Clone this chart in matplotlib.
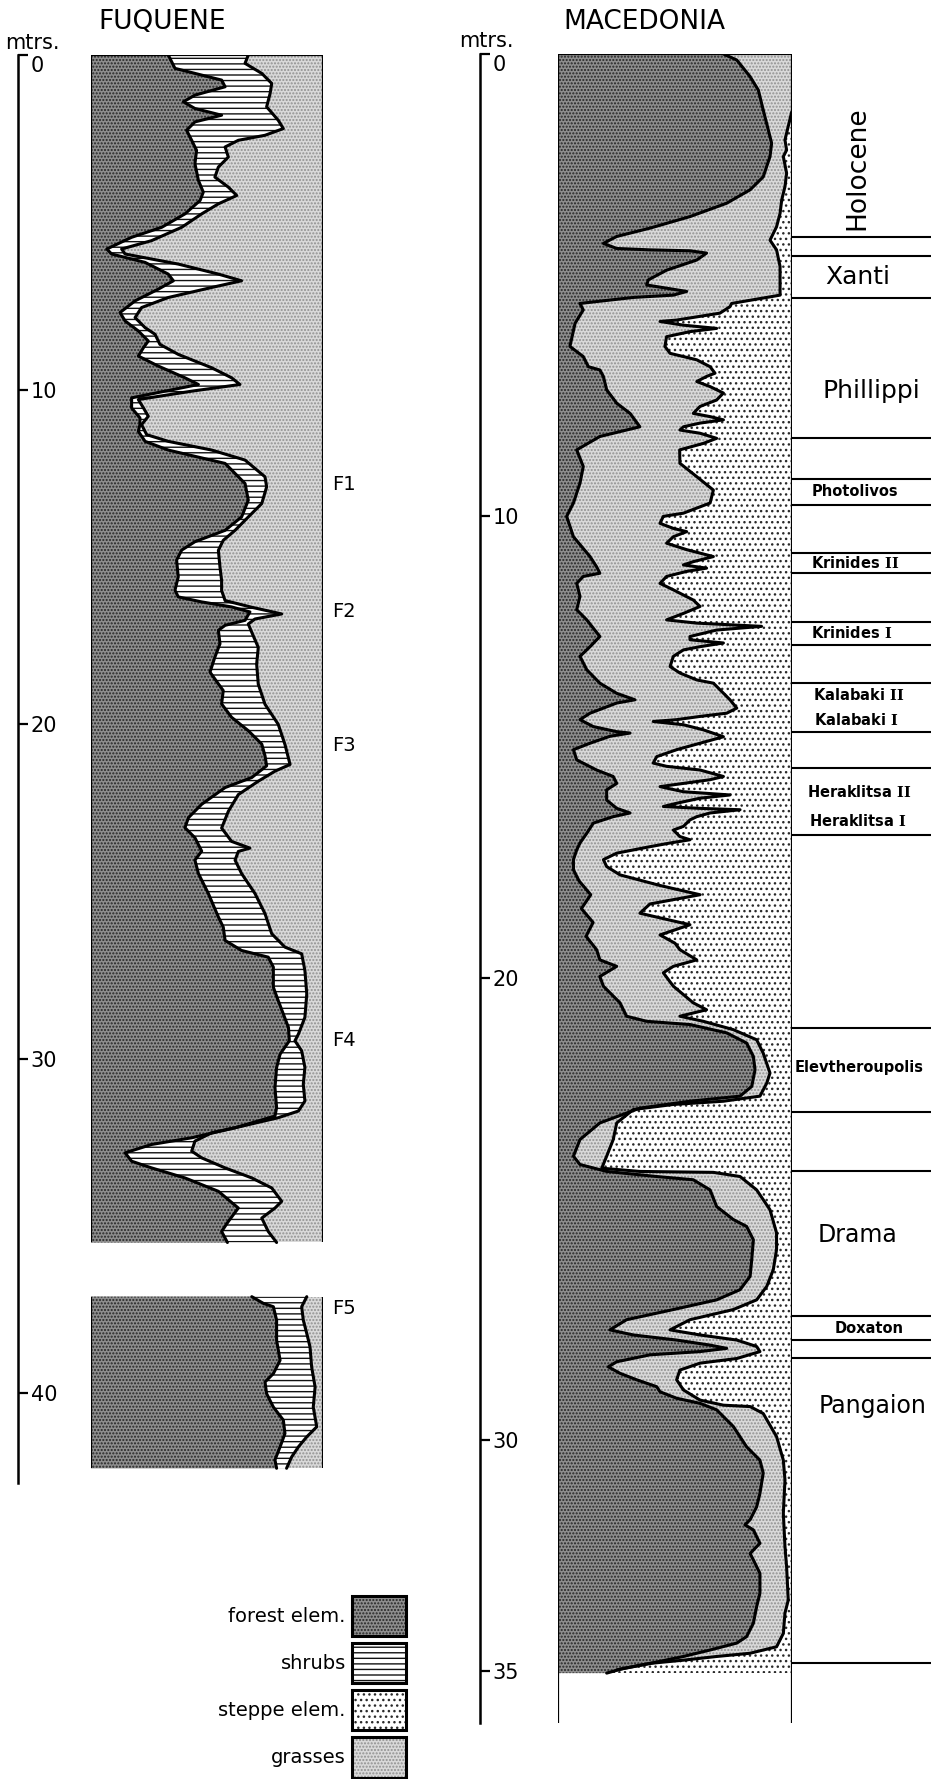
import matplotlib
matplotlib.use("Agg")
import matplotlib.pyplot as plt
from matplotlib.patches import Patch
from matplotlib.legend_handler import HandlerTuple

plt.rcParams['font.family'] = ['DejaVu Sans']
plt.rcParams['mathtext.fontset'] = 'dejavuserif'
plt.rcParams['hatch.linewidth'] = 1.0

# ---------------- data (depth in m, boundaries in % of pollen sum) ----------------
# Fuquene, upper section: forest boundary and forest+shrubs boundary
fuq_forest_depth = [0.0, 0.40, 0.75, 0.95, 1.20, 1.40, 1.60, 1.80, 2.00, 2.25, 2.55, 2.85, 3.25, 3.75, 4.10,
                    4.35, 4.75, 5.15, 5.45, 5.80, 5.95, 6.20, 6.55, 6.75, 7.00, 7.35, 7.70, 7.95, 8.25, 8.55,
                    8.75, 9.00, 9.30, 9.65, 9.85, 10.05, 10.25, 10.55, 10.85, 11.05, 11.25, 11.55, 11.81, 12.21,
                    12.81, 13.31, 13.81, 14.21, 14.55, 14.80, 15.10, 15.60, 16.00, 16.20, 16.35, 16.50, 16.65,
                    16.90, 17.05, 17.20, 17.60, 18.00, 18.45, 18.80, 19.00, 19.40, 19.80, 20.20, 20.60, 20.95,
                    21.25, 21.60, 21.90, 22.40, 22.80, 23.10, 23.40, 23.80, 24.07, 24.47, 25.07, 25.77, 26.07,
                    26.47, 26.77, 26.97, 27.27, 27.87, 28.27, 29.07, 29.47, 29.87, 30.27, 30.87, 31.47, 31.72,
                    32.07, 32.37, 32.57, 32.82, 33.07, 33.27, 33.57, 33.97, 34.47, 34.87, 35.17, 35.50]
fuq_forest = [33.3, 36.2, 56.3, 57.8, 44.8, 39.8, 44.8, 56.3, 44.8, 41.2, 43.4, 45.5, 44.8, 46.3, 48.4,
              47.0, 40.5, 30.5, 17.5, 6.8, 8.9, 23.3, 33.3, 35.5, 29.0, 19.0, 12.5, 14.7, 20.4, 24.7,
              22.6, 20.4, 29.0, 40.5, 46.3, 31.9, 17.5, 17.5, 21.1, 21.1, 20.4, 23.3, 33.3, 57.8,
              66.4, 67.8, 64.9, 57.8, 44.8, 39.1, 36.9, 37.6, 36.2, 37.6, 47.7, 60.6, 68.5,
              66.4, 57.8, 54.9, 55.6, 53.4, 51.3, 54.9, 57.0, 56.3, 60.6, 67.8, 73.6, 75.0,
              75.7, 69.3, 57.8, 47.7, 42.0, 40.5, 44.8, 47.7, 44.8, 46.3, 50.6, 54.9, 57.0,
              57.8, 64.9, 76.4, 78.6, 78.6, 80.7, 85.1, 85.5, 81.5, 80.0, 79.3, 80.0, 79.3,
              62.1, 43.4, 26.1, 14.7, 17.5, 26.1, 40.5, 54.9, 63.5, 59.2, 56.3, 58.8]

fuq_shrub_depth = [0.0, 0.25, 0.55, 0.85, 1.15, 1.55, 1.95, 2.20, 2.40, 2.55, 2.75, 3.05, 3.35, 3.65, 3.95,
                   4.20, 4.45, 4.75, 5.15, 5.55, 5.80, 5.95, 6.25, 6.55, 6.75, 6.95, 7.25, 7.55, 7.85, 8.15,
                   8.35, 8.65, 8.95, 9.35, 9.65, 9.85, 10.05, 10.30, 10.55, 10.80, 11.05, 11.35, 11.55, 11.81,
                   12.11, 12.61, 12.91, 13.41, 13.81, 14.21, 14.51, 14.81, 15.31, 15.71, 16.01, 16.31, 16.51,
                   16.71, 16.86, 17.01, 17.26, 17.71, 18.21, 18.81, 19.41, 20.01, 20.61, 21.21, 21.41, 21.71,
                   22.11, 22.61, 23.11, 23.51, 23.71, 23.81, 24.07, 24.47, 25.07, 25.67, 26.27, 26.67, 26.87,
                   27.37, 28.07, 28.77, 29.27, 29.47, 29.77, 30.27, 30.77, 31.27, 31.57, 31.77, 32.07, 32.22,
                   32.47, 32.77, 32.97, 33.27, 33.57, 33.87, 34.27, 34.47, 34.77, 35.17, 35.50]
fuq_shrub = [67.8, 66.4, 73.6, 77.9, 77.2, 75.7, 80.7, 82.9, 75.0, 63.5, 57.8, 59.2, 54.9, 53.4, 59.2,
             62.8, 54.9, 47.7, 39.1, 26.1, 13.2, 14.7, 37.6, 54.9, 64.9, 52.0, 33.3, 21.8, 19.0, 23.3,
             27.6, 29.7, 37.6, 52.0, 60.6, 64.2, 43.4, 20.4, 22.6, 24.7, 21.8, 24.0, 33.3, 52.0,
             66.4, 75.0, 75.7, 73.6, 67.8, 62.1, 57.0, 54.9, 55.6, 56.3, 56.3, 57.8, 69.3,
             82.2, 70.7, 67.8, 69.3, 72.1, 71.4, 72.1, 75.0, 80.7, 83.6, 85.8, 79.3, 72.1,
             63.5, 59.2, 56.3, 60.6, 68.5, 63.5, 62.1, 64.9, 70.7, 75.0, 77.9, 83.6, 90.8,
             92.2, 93.0, 92.2, 89.4, 87.9, 90.8, 92.2, 91.5, 92.2, 89.4, 80.7, 62.1, 52.0,
             44.8, 43.4, 47.7, 57.8, 69.3, 77.9, 82.2, 79.3, 73.6, 76.4, 80.0]

# Fuquene, lower section
fuq_low_forest_depth = [37.12, 37.32, 37.42, 37.82, 38.42, 39.02, 39.42, 39.67, 40.02, 40.42, 40.81, 41.21,
                        41.61, 42.00, 42.25]
fuq_low_forest = [69.3, 74.3, 78.6, 80.0, 80.0, 81.5, 78.6, 75.0, 75.7, 78.6, 82.9, 83.6, 81.5, 79.3, 80.0]
fuq_low_shrub_depth = [37.12, 37.42, 37.82, 38.22, 38.62, 39.22, 39.82, 40.42, 41.01, 41.31, 41.61, 41.91,
                       42.25]
fuq_low_shrub = [93.0, 90.8, 91.5, 93.0, 94.4, 95.1, 96.6, 95.8, 97.3, 93.0, 89.4, 86.5, 84.3]

fuq_sections = [(0.0, 35.5), (37.12, 42.25)]
fuq_zones = ['F1', 'F2', 'F3', 'F4', 'F5']
fuq_zone_depth = [12.85, 16.65, 20.63, 29.45, 37.46]
fuq_ticks = [0, 10, 20, 30, 40]

# Macedonia: forest boundary and forest+grasses boundary (steppe beyond)
mac_forest_depth = [0.0, 0.13, 0.49, 0.78, 1.21, 1.65, 1.93, 2.22, 2.66, 2.94, 3.23, 3.52, 3.77, 3.95, 4.10,
                    4.21, 4.24, 4.26, 4.31, 4.46, 4.68, 4.89, 5.00, 5.07, 5.14, 5.22, 5.27, 5.40, 5.54, 5.83,
                    6.33, 6.55, 6.77, 6.84, 6.98, 7.27, 7.56, 7.78, 8.07, 8.14, 8.28, 8.57, 8.93, 9.29, 9.72,
                    10.01, 10.45, 10.88, 11.10, 11.24, 11.31, 11.46, 11.74, 12.03, 12.25, 12.61, 12.83, 13.04,
                    13.33, 13.62, 13.84, 13.98, 14.05, 14.27, 14.41, 14.56, 14.67, 14.70, 14.77, 14.92, 15.06,
                    15.28, 15.50, 15.64, 15.79, 15.93, 16.15, 16.33, 16.43, 16.51, 16.65, 16.87, 17.08, 17.23,
                    17.44, 17.66, 17.90, 18.20, 18.50, 18.80, 19.10, 19.39, 19.61, 19.75, 19.97, 20.18, 20.54,
                    20.83, 20.94, 21.01, 21.19, 21.41, 21.70, 21.99, 22.35, 22.56, 22.67, 22.82, 23.14, 23.50,
                    23.86, 24.04, 24.19, 24.30, 24.37, 24.59, 24.95, 25.23, 25.38, 25.67, 26.10, 26.46, 26.75,
                    26.97, 27.18, 27.40, 27.62, 27.73, 27.84, 27.95, 28.02, 28.09, 28.16, 28.31, 28.42, 28.56,
                    28.70, 28.85, 28.96, 29.10, 29.21, 29.35, 29.71, 30.15, 30.44, 30.72, 31.16, 31.45, 31.73,
                    31.84, 31.95, 32.24, 32.46, 32.60, 32.89, 33.32, 33.61, 33.97, 34.26, 34.40, 34.55, 34.69,
                    34.84, 34.95, 35.05]
mac_forest = [70.7, 76.4, 82.1, 85.6, 87.7, 89.9, 91.3, 90.6, 87.7, 82.1, 72.1, 56.4, 39.3, 25.1, 19.4,
              25.1, 39.3, 56.4, 63.5, 59.3, 46.4, 38.6, 37.9, 46.4, 55.0, 49.3, 32.2, 9.4, 10.8, 7.3,
              5.1, 10.8, 13.0, 17.9, 19.4, 20.8, 25.1, 30.8, 35.0, 29.3, 17.9, 8.0, 10.8, 9.4, 6.6,
              3.7, 6.6, 13.7, 16.5, 17.9, 10.8, 8.0, 9.4, 8.0, 12.3, 17.9, 13.7, 9.4,
              12.3, 17.9, 25.1, 32.9, 25.1, 13.7, 9.4, 15.1, 25.1, 30.8, 22.2, 13.7, 6.6,
              8.0, 16.5, 23.6, 25.1, 20.8, 20.8, 25.1, 30.8, 23.6, 15.1, 12.3, 9.4, 8.0,
              6.6, 6.6, 9.0, 14.0, 10.0, 15.0, 12.0, 16.5, 17.9, 25.1, 17.9, 19.4, 26.5,
              29.3, 37.9, 56.4, 72.1, 80.6, 83.5, 84.2, 82.8, 77.8, 56.4, 35.0, 17.9, 9.4,
              6.6, 9.4, 20.8, 42.2, 57.8, 65.0, 67.8, 74.9, 80.6, 83.5, 82.8, 82.1, 77.8,
              67.8, 49.3, 29.3, 22.2, 32.2, 50.7, 65.0, 72.1, 60.7, 39.3, 25.1, 21.5, 26.5,
              33.6, 42.2, 43.6, 50.7, 60.7, 67.8, 74.9, 80.6, 86.3, 87.7, 86.3, 84.9, 82.1,
              79.9, 83.5, 86.3, 82.1, 83.5, 86.3, 86.3, 84.9, 83.5, 80.6, 76.4, 65.0, 53.6,
              39.3, 27.9, 20.8]

mac_grass_depth = [0.0, 1.25, 1.57, 1.86, 2.08, 2.22, 2.58, 2.87, 3.16, 3.45, 3.74, 4.03, 4.24, 4.60, 4.89,
                   5.22, 5.40, 5.47, 5.61, 5.76, 5.79, 5.87, 5.94, 6.01, 6.12, 6.33, 6.48, 6.62, 6.77, 6.91,
                   6.98, 7.09, 7.20, 7.34, 7.49, 7.63, 7.78, 7.85, 7.92, 7.99, 8.07, 8.14, 8.21, 8.32, 8.43,
                   8.57, 8.86, 9.15, 9.44, 9.72, 9.94, 10.01, 10.16, 10.27, 10.34, 10.45, 10.59, 10.73, 10.88,
                   10.99, 11.06, 11.13, 11.20, 11.31, 11.46, 11.60, 11.82, 11.96, 12.11, 12.25, 12.32, 12.39,
                   12.47, 12.61, 12.68, 12.75, 12.83, 12.90, 13.04, 13.26, 13.40, 13.55, 13.62, 13.69, 13.98,
                   14.16, 14.27, 14.34, 14.41, 14.45, 14.52, 14.63, 14.78, 14.92, 15.06, 15.21, 15.35, 15.42,
                   15.50, 15.64, 15.71, 15.79, 15.86, 15.97, 16.04, 16.11, 16.22, 16.29, 16.33, 16.36, 16.43,
                   16.51, 16.58, 16.72, 16.80, 16.94, 17.01, 17.08, 17.16, 17.30, 17.44, 17.59, 17.77, 18.00,
                   18.20, 18.40, 18.60, 18.85, 19.07, 19.25, 19.39, 19.61, 19.75, 19.89, 20.18, 20.54, 20.69,
                   20.83, 20.94, 21.12, 21.34, 21.63, 22.06, 22.28, 22.56, 22.67, 22.74, 22.85, 23.14, 23.50,
                   23.86, 24.12, 24.19, 24.21, 24.30, 24.59, 25.02, 25.52, 25.88, 26.32, 26.68, 26.97, 27.18,
                   27.40, 27.62, 27.73, 27.84, 27.98, 28.09, 28.24, 28.34, 28.49, 28.70, 28.92, 29.14, 29.25,
                   29.28, 29.43, 29.93, 30.44, 30.87, 31.59, 32.31, 32.75, 33.47, 33.75, 34.19, 34.48, 34.62,
                   34.69, 34.77, 34.84, 34.98]
mac_grass = [100.0, 99.9, 98.4, 97.0, 97.7, 96.3, 97.7, 97.0, 95.6, 94.9, 93.4, 90.6, 93.4, 94.9, 94.9,
             94.9, 74.2, 73.5, 69.2, 50.7, 43.6, 53.6, 67.8, 56.4, 46.4, 45.7, 47.9, 59.3, 65.0, 67.1,
             63.5, 59.3, 65.0, 70.7, 67.8, 60.7, 57.8, 65.0, 70.7, 60.7, 53.6, 52.1, 60.7, 67.8, 62.1,
             52.0, 52.1, 59.3, 66.4, 65.0, 53.6, 45.0, 43.6, 49.3, 55.0, 49.3, 46.4, 55.0, 66.4,
             57.8, 53.6, 63.5, 55.0, 46.4, 43.6, 49.3, 57.8, 60.7, 53.6, 46.4, 59.3, 87.0,
             67.8, 56.4, 56.4, 70.7, 60.7, 53.6, 49.3, 47.9, 52.1, 59.3, 66.4, 67.8, 73.5,
             76.4, 72.1, 60.7, 50.7, 40.7, 53.6, 62.1, 70.7, 60.7, 50.7, 42.2, 40.7, 46.4,
             60.7, 70.7, 65.0, 53.6, 43.6, 53.6, 73.5, 60.7, 50.7, 45.0, 60.7, 77.8, 65.0,
             59.3, 56.4, 53.6, 49.3, 52.1, 56.4, 47.9, 39.3, 25.1, 19.4, 20.8, 26.5, 43.6,
             60.7, 39.3, 35.0, 56.4, 43.6, 50.0, 52.1, 59.3, 49.3, 45.0, 49.3, 57.8, 63.5,
             52.1, 62.1, 74.9, 84.9, 87.7, 90.6, 89.2, 86.3, 70.7, 49.3, 32.2, 25.1, 23.6,
             20.8, 18.7, 35.0, 66.4, 77.8, 84.9, 90.6, 93.4, 93.4, 92.0, 89.2, 84.9, 74.9,
             56.4, 47.9, 60.7, 76.4, 84.9, 86.3, 76.4, 60.7, 52.1, 50.7, 53.6, 60.7, 70.7,
             82.1, 87.7, 93.4, 96.3, 97.0, 96.3, 97.0, 97.7, 98.4, 97.0, 96.3, 93.4, 82.1,
             67.8, 53.6, 39.3, 25.1]

mac_fill_bottom = 35.05
mac_ticks = [0, 10, 20, 30, 35]

# stratigraphic column (Macedonia depth scale)
strat_bounds = [3.96, 4.37, 5.28, 8.31, 9.20, 9.76, 10.80, 11.23, 12.29, 12.79, 13.61, 14.68, 15.45,
                16.90, 21.08, 22.90, 24.17, 27.32, 27.84, 28.22, 34.83]
big_names = ['Xanti', 'Phillippi', 'Drama', 'Pangaion']
big_depth = [4.83, 7.30, 25.56, 29.27]
small_names = ['Photolivos', r'Krinides $\mathbf{II}$', r'Krinides $\mathbf{I}$', r'Kalabaki $\mathbf{II}$',
               r'Kalabaki $\mathbf{I}$', r'Heraklitsa $\mathbf{II}$', r'Heraklitsa $\mathbf{I}$',
               'Elevtheroupolis', 'Doxaton']
small_depth = [9.48, 11.02, 12.53, 13.87, 14.42, 15.97, 16.60, 21.95, 27.58]

legend_labels = ['forest elem.', 'shrubs', 'steppe elem.', 'grasses']

# ---------------- styles ----------------
FOREST = dict(facecolor='#8e8e8e', hatch='.....', edgecolor='#262626', linewidth=0)
SHRUBS = dict(facecolor='white', hatch='---', edgecolor='#111111', linewidth=0)
GRASSES = dict(facecolor='#d9d9d9', hatch='.....', edgecolor='#909090', linewidth=0)
STEPPE = dict(facecolor='white', hatch='...', edgecolor='#2a2a2a', linewidth=0)
LINE = dict(color='black', lw=2.2, solid_joinstyle='round', solid_capstyle='round')

W, H = 931, 1779
fig = plt.figure(figsize=(W / 100, H / 100), dpi=100)


def rect(x0, y0, x1, y1):
    return [x0 / W, 1 - y1 / H, (x1 - x0) / W, (y1 - y0) / H]


def scale_axis(r, bottom, ticks):
    ax = fig.add_axes(r)
    ax.set_ylim(bottom, 0)
    for s in ['left', 'top', 'bottom']:
        ax.spines[s].set_visible(False)
    ax.spines['right'].set_linewidth(1.8)
    ax.patch.set_visible(False)
    ax.set_xticks([])
    ax.yaxis.tick_right()
    ax.set_yticks(ticks)
    ax.set_yticklabels(['' if t == 0 else str(t) for t in ticks])
    ax.tick_params(axis='y', direction='out', length=7, width=1.6, pad=2, labelsize=15)
    ax.annotate('0', xy=(1, 0), xycoords=('axes fraction', 'data'), xytext=(9, -1),
                textcoords='offset points', ha='left', va='top', fontsize=15)
    return ax


def frame(ax, top, bottom, with_top=True):
    ax.plot([0, 0], [top, bottom], color='black', lw=1.6, solid_capstyle='butt')
    ax.plot([100, 100], [top, bottom], color='black', lw=1.6, solid_capstyle='butt')
    if with_top:
        ax.plot([0, 100], [top, top], color='black', lw=1.6)


# ---------------- Fuquene ----------------
fuq_bottom = 42.69
axf = fig.add_axes(rect(91, 55, 323, 1483))
axf.set_xlim(0, 100)
axf.set_ylim(fuq_bottom, 0)
axf.axis('off')

sections = [(fuq_sections[0], fuq_forest_depth, fuq_forest, fuq_shrub_depth, fuq_shrub),
            (fuq_sections[1], fuq_low_forest_depth, fuq_low_forest, fuq_low_shrub_depth, fuq_low_shrub)]
for (top, bot), fd, fx, sd, sx in sections:
    axf.fill_betweenx([top, bot], 0, 100, **GRASSES)
    axf.fill_betweenx(sd, 0, sx, **SHRUBS)
    axf.fill_betweenx(fd, 0, fx, **FOREST)
    axf.plot(sx, sd, **LINE)
    axf.plot(fx, fd, **LINE)
    frame(axf, top, bot, with_top=(top == 0))

for name, d in zip(fuq_zones, fuq_zone_depth):
    axf.text(104, d, name, fontsize=14, va='center', ha='left', clip_on=False)

scale_axis(rect(0, 55, 18, 1483), fuq_bottom, fuq_ticks)

# ---------------- Macedonia ----------------
mac_bottom = 36.13
axm = fig.add_axes(rect(558, 54, 792, 1723))
axm.set_xlim(0, 100)
axm.set_ylim(mac_bottom, 0)
axm.axis('off')
axm.fill_betweenx([0, mac_fill_bottom], 0, 100, **STEPPE)
axm.fill_betweenx(mac_grass_depth, 0, mac_grass, **GRASSES)
axm.fill_betweenx(mac_forest_depth, 0, mac_forest, **FOREST)
axm.plot(mac_grass[1:], mac_grass_depth[1:], **LINE)
axm.plot(mac_forest, mac_forest_depth, **LINE)
frame(axm, 0, mac_bottom)

scale_axis(rect(462, 54, 480, 1723), mac_bottom, mac_ticks)

# stratigraphic column
axs = fig.add_axes(rect(792, 54, 931, 1723))
axs.set_xlim(0, 1)
axs.set_ylim(mac_bottom, 0)
axs.axis('off')
for b in strat_bounds:
    axs.axhline(b, color='black', lw=1.5)
axs.text(0.47, 2.47, 'Holocene', rotation=90, ha='center', va='center', fontsize=19)
big_x = [0.47, 0.57, 0.47, 0.58]
big_size = [18, 18, 17, 17]
for name, d, x, fs in zip(big_names, big_depth, big_x, big_size):
    axs.text(x, d, name, ha='center', va='center', fontsize=fs)
small_x = [0.14, 0.14, 0.14, 0.15, 0.16, 0.11, 0.12, 0.02, 0.31]
for name, d, x in zip(small_names, small_depth, small_x):
    axs.text(x, d, name, ha='left', va='center', fontsize=10.5, fontweight='bold')

# titles
fig.text(162 / W, 1 - 22 / H, 'FUQUENE', ha='center', va='center', fontsize=19)
fig.text(644 / W, 1 - 22 / H, 'MACEDONIA', ha='center', va='center', fontsize=19)
fig.text(5 / W, 1 - 43 / H, 'mtrs.', ha='left', va='center', fontsize=15)
fig.text(459 / W, 1 - 41 / H, 'mtrs.', ha='left', va='center', fontsize=15)

# legend
handles = []
for st in [FOREST, SHRUBS, STEPPE, GRASSES]:
    handles.append((Patch(**st), Patch(facecolor='none', edgecolor='black', linewidth=2.2)))
fig.legend(handles, legend_labels, handler_map={tuple: HandlerTuple(ndivide=1, pad=0)},
           loc='upper right', bbox_to_anchor=(406 / W, 1 - 1596 / H), frameon=False,
           markerfirst=False, handlelength=2.8, handleheight=2.8, labelspacing=0.36,
           handletextpad=0.3, borderpad=0, borderaxespad=0, fontsize=14)

fig.savefig('out.png', dpi=100)
